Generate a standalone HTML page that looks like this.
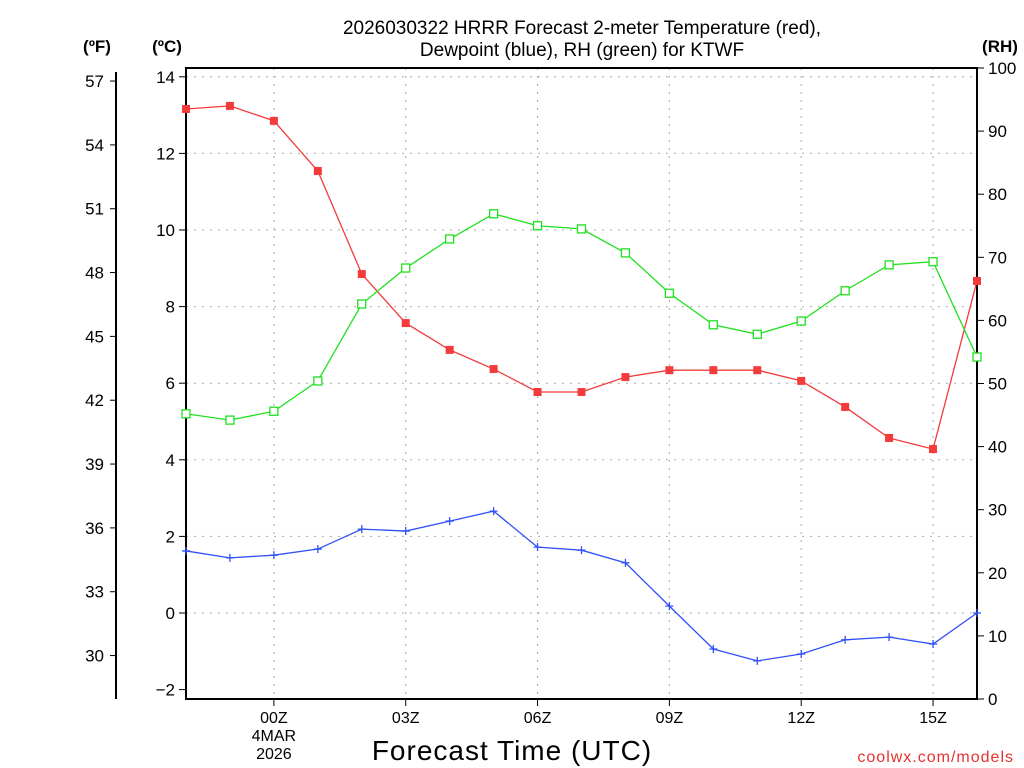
<!DOCTYPE html>
<html><head><meta charset="utf-8"><style>
html,body{margin:0;padding:0;background:#fff;}
svg{display:block;font-family:"Liberation Sans",sans-serif;}
</style></head><body>
<svg id="chart" width="1024" height="768" viewBox="0 0 1024 768" xmlns="http://www.w3.org/2000/svg">
<text x="582" y="34" text-anchor="middle" font-size="19">2026030322 HRRR Forecast 2-meter Temperature (red),</text>
<text x="582" y="56" text-anchor="middle" font-size="19">Dewpoint (blue), RH (green) for KTWF</text>
<text x="97" y="52" text-anchor="middle" font-size="17" font-weight="bold">(ºF)</text>
<text x="167" y="52" text-anchor="middle" font-size="17" font-weight="bold">(ºC)</text>
<text x="1000" y="52" text-anchor="middle" font-size="17" font-weight="bold">(RH)</text>
<text x="512" y="760" text-anchor="middle" font-size="28" letter-spacing="1">Forecast Time (UTC)</text>
<text x="1014" y="762" text-anchor="end" font-size="16" fill="#e83030" letter-spacing="1">coolwx.com/models</text>
<g id="grid"></g><g id="axes"></g><g id="series"></g>
</svg>
<script>
const hours = ["22","23","00","01","02","03","04","05","06","07","08","09","10","11","12","13","14","15","16"];
const tempC = [13.16,13.24,12.85,11.54,8.85,7.57,6.87,6.37,5.77,5.77,6.16,6.34,6.34,6.34,6.06,5.38,4.57,4.28,8.67];
const dewC = [1.62,1.44,1.51,1.67,2.19,2.14,2.40,2.66,1.72,1.64,1.31,0.18,-0.94,-1.25,-1.07,-0.70,-0.63,-0.81,0.0];
const rh = [45.2,44.2,45.6,50.4,62.6,68.3,72.9,76.9,75.0,74.5,70.7,64.3,59.3,57.8,59.9,64.7,68.8,69.3,54.2];
const cTicks = [-2,0,2,4,6,8,10,12,14];
const fTicks = [30,33,36,39,42,45,48,51,54,57];
const rhTicks = [0,10,20,30,40,50,60,70,80,90,100];
const xLabels = ["00Z","03Z","06Z","09Z","12Z","15Z"];
const xLabelIdx = [2,5,8,11,14,17];

const NS="http://www.w3.org/2000/svg";
const L=186,R=977,T=68,B=699;
const x=i=>L+i*(R-L)/(hours.length-1);
const yC=c=>613-c*38.3;
const yF=f=>yC((f-32)*5/9);
const yRH=v=>B-v*(B-T)/100;
function mk(tag,attrs,parent){const e=document.createElementNS(NS,tag);for(const k in attrs)e.setAttribute(k,attrs[k]);document.getElementById(parent).appendChild(e);return e;}

// grid
cTicks.forEach(c=>{if(c===-2)return;
 const g=mk('line',{x1:L,x2:R,y1:yC(c),y2:yC(c),stroke:'#aaa','stroke-dasharray':'2,6'},'grid');
 
 });
xLabelIdx.forEach(i=>{
 const g=mk('line',{x1:x(i),x2:x(i),y1:T,y2:B,stroke:'#aaa','stroke-dasharray':'2,6'},'grid');
 
 });

// frame
const fr=mk('rect',{x:L,y:T,width:R-L,height:B-T,fill:'none',stroke:'#000','stroke-width':2},'axes');


const fa=mk('line',{x1:116,x2:116,y1:72,y2:699,stroke:'#000','stroke-width':2},'axes');



cTicks.forEach(c=>{const y=yC(c);
 mk('line',{x1:179,x2:L,y1:y,y2:y,stroke:'#000'},'axes');
 const t=mk('text',{x:175,y:y+6,'text-anchor':'end','font-size':17},'axes');t.textContent=c<0?'\u2212'+(-c):c;
 
 });
fTicks.forEach(f=>{const y=yF(f);
 mk('line',{x1:110,x2:116,y1:y,y2:y,stroke:'#000'},'axes');
 const t=mk('text',{x:104,y:y+6,'text-anchor':'end','font-size':17},'axes');t.textContent=f;
 
 });
rhTicks.forEach(v=>{const y=yRH(v);
 mk('line',{x1:R,x2:984,y1:y,y2:y,stroke:'#000'},'axes');
 const t=mk('text',{x:988,y:y+6,'text-anchor':'start','font-size':17},'axes');t.textContent=v;
 
 });
xLabelIdx.forEach((i,k)=>{
 mk('line',{x1:x(i),x2:x(i),y1:B,y2:706,stroke:'#000'},'axes');
 const t=mk('text',{x:x(i),y:723,'text-anchor':'middle','font-size':16},'axes');t.textContent=xLabels[k];
 
 });
[["4MAR",741],["2026",759]].forEach(([s,y])=>{const t=mk('text',{x:x(2),y:y,'text-anchor':'middle','font-size':16},'axes');t.textContent=s;
 
 });

function line(vals,yf,color,name){
 const p=mk('polyline',{points:vals.map((v,i)=>x(i)+','+yf(v)).join(' '),fill:'none',stroke:color,'stroke-width':1.3},'series');
 
 }
line(tempC,yC,'#f43b3b','temperature');
line(dewC,yC,'#3050f8','dewpoint');
line(rh,yRH,'#20e020','rh');
tempC.forEach((v,i)=>{const m=mk('rect',{x:x(i)-4,y:yC(v)-4,width:8,height:8,fill:'#f43b3b'},'series');
 
 });
rh.forEach((v,i)=>{const m=mk('rect',{x:x(i)-4,y:yRH(v)-4,width:8,height:8,fill:'#fff',stroke:'#20e020','stroke-width':1.3},'series');
 
 });
dewC.forEach((v,i)=>{const m=mk('path',{d:`M${x(i)-4},${yC(v)}h8M${x(i)},${yC(v)-4}v8`,stroke:'#3050f8','stroke-width':1.3},'series');
 
 });
</script>
</body></html>
